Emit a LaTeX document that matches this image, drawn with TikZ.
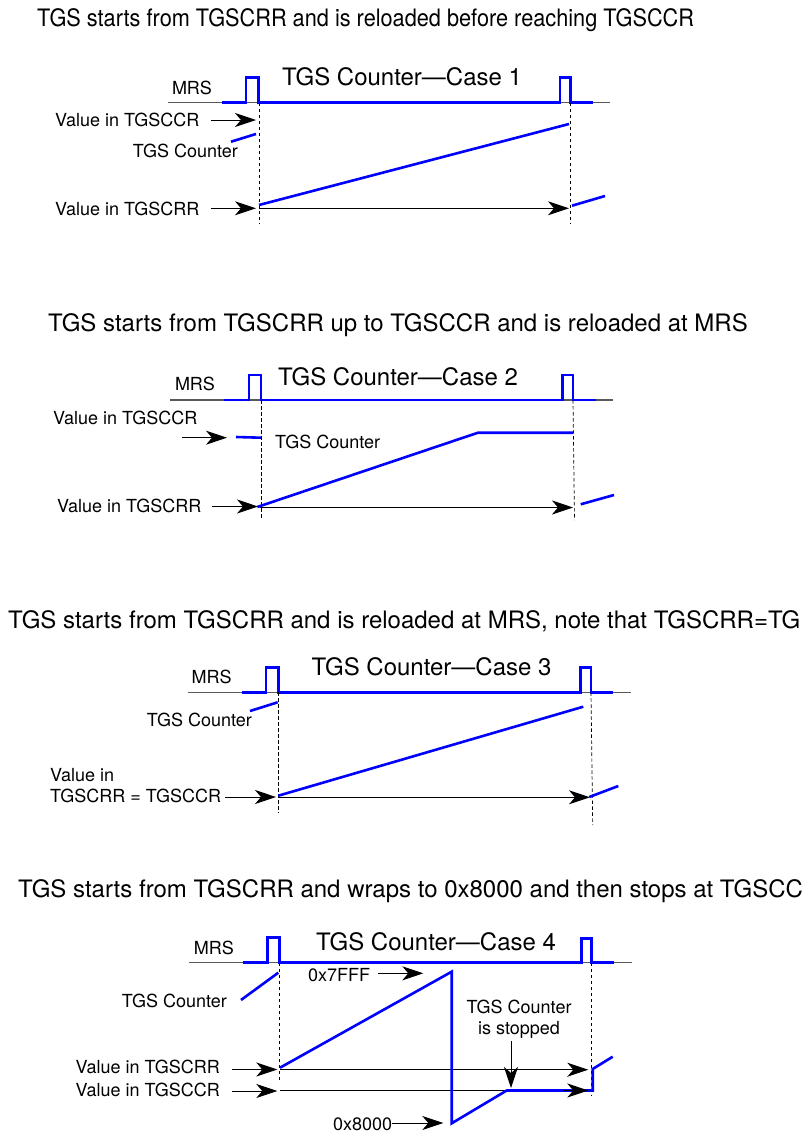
\documentclass[tikz,border=0pt]{standalone}
\usepackage{fontspec}
\setmainfont{TeX Gyre Heros}
\usepackage{tikz}
\usetikzlibrary{arrows.meta,positioning}
\definecolor{wave}{RGB}{0,0,255}

\begin{document}
\begin{tikzpicture}[x=1pt,y=-1pt,
  lbl/.style={font=\fontsize{18}{21}\selectfont, inner sep=0pt},
  ttl/.style={font=\fontsize{24}{28}\selectfont, inner sep=0pt},
  sig/.style={wave, line width=2.6pt},
  base/.style={draw=black!65, line width=1.2pt},
  guide/.style={line width=0.7pt, dash pattern=on 3.5pt off 2.5pt},
  ptr/.style={-{Stealth[length=21pt,width=14pt,inset=6pt]}, line width=1pt}]
  \useasboundingbox (0,0) rectangle (805,1135);

  % case 1
  \node[ttl, anchor=west] (ttlA) at (37,20) {\scalebox{0.905}[1]{TGS starts from TGSCRR and is reloaded before reaching TGSCCR}};
  \node[lbl] (mrsA) at (192,88) {MRS};
  \node[ttl] (caseA) at (402,77) {TGS Counter---Case 1};
  \draw[base] (168,102.7) -- (610,102.7);
  \draw[sig] (222,102.7) -| (246,77.3) -| (258.5,102.7) -| (560,77.3) -| (570.5,102.7) -- (593,102.7);
  \draw[guide] (259,102.7) -- (259,223);
  \draw[guide] (570,102.7) -- (570,223);
  \coordinate (cmpA) at (256,120);
  \coordinate (rldA) at (256,208.3);
  \node[lbl, anchor=west] (vccA) at (55,120) {Value in TGSCCR};
  \node[lbl, anchor=east] (cntA) at (238,151) {TGS Counter};
  \node[lbl, anchor=west] (vcrA) at (55,209) {Value in TGSCRR};
  \draw[ptr] ([xshift=11pt]vccA.east |- cmpA) -- (cmpA);
  \draw[ptr] ([xshift=11pt]vcrA.east |- rldA) -- (rldA);
  \draw[ptr] (259,208.3) -- (569,208.3);
  \draw[sig] (231,141.7) -- (256,134);
  \draw[sig] (259,205) -- (569,124);
  \draw[sig] (572,205.7) -- (605,196);

  % case 2
  \node[ttl, anchor=west] (ttlB) at (48,325) {TGS starts from TGSCRR up to TGSCCR and is reloaded at MRS};
  \node[lbl] (mrsB) at (195,384) {MRS};
  \node[ttl] (caseB) at (398,377) {TGS Counter---Case 2};
  \draw[base] (170,400) -- (613,400);
  \draw[sig] (224,400) -| (249,375) -| (261,400) -| (562.7,375) -| (573,400) -- (596,400);
  \draw[guide] (261.5,400) -- (261.5,519);
  \draw[guide] (573,400) -- (574.5,520);
  \coordinate (cmpB0) at (181.7,437.7);
  \coordinate (cmpB) at (227,437.7);
  \coordinate (rldB) at (258,506.5);
  \node[lbl, anchor=west] (vccB) at (53,418) {Value in TGSCCR};
  \node[lbl, anchor=west] (cntB) at (275,442) {TGS Counter};
  \node[lbl, anchor=west] (vcrB) at (57,506) {Value in TGSCRR};
  \draw[ptr] (cmpB0) -- (cmpB);
  \draw[ptr] ([xshift=10pt]vcrB.east |- rldB) -- (rldB);
  \draw[ptr] (260,507.5) -- (573,507.5);
  \draw[sig] (236,437) -- (261,437.7);
  \draw[sig] (257.3,507) -- (478,432.7) -- (573,432.7);
  \draw[sig] (580.7,504.3) -- (614,495);

  % case 3
  \node[ttl, anchor=west] (ttlC) at (8,621) {TGS starts from TGSCRR and is reloaded at MRS, note that TGSCRR=TG};
  \node[lbl] (mrsC) at (211.7,676.7) {MRS};
  \node[ttl] (caseC) at (431.5,667) {TGS Counter---Case 3};
  \draw[base] (187.7,692.3) -- (630.7,692.3);
  \draw[sig] (241.7,692.3) -| (266,667.3) -| (278.3,692.3) -| (580.7,667.3) -| (591,692.3) -- (613.3,692.3);
  \draw[guide] (278.3,692.3) -- (278.3,813);
  \draw[guide] (591,692.3) -- (592.7,825);
  \coordinate (rldC) at (276,797);
  \node[lbl, anchor=east] (cntC) at (252,720) {TGS Counter};
  \node[lbl, anchor=north west, align=left] (vcrC) at (50,768) {Value in\\TGSCRR = TGSCCR};
  \draw[ptr] ([xshift=4pt]vcrC.east |- rldC) -- (rldC);
  \draw[ptr] (279,797.3) -- (590,797.3);
  \draw[sig] (250,711) -- (277.7,702.3);
  \draw[sig] (278.3,795.7) -- (583.3,706.7);
  \draw[sig] (589.3,797) -- (618.3,786);

  % case 4
  \node[ttl, anchor=west] (ttlD) at (18,891) {TGS starts from TGSCRR and wraps to 0x8000 and then stops at TGSCC};
  \node[lbl] (mrsD) at (213.8,948.3) {MRS};
  \node[ttl] (caseD) at (436,942) {TGS Counter---Case 4};
  \draw[base] (189,962.7) -- (631.7,962.7);
  \draw[sig] (242.7,962.7) -| (267.3,937.7) -| (279.3,962.7) -| (581.7,938.3) -| (591.7,962.7) -- (614.3,962.7);
  \draw[guide] (279.3,962.7) -- (279.3,1080);
  \draw[guide] (591.7,962.7) -- (591.7,1095);
  \coordinate (topD) at (423.3,973.3);
  \coordinate (botD) at (443.3,1123);
  \coordinate (rldD) at (277.3,1069.5);
  \coordinate (cmpD) at (277.3,1091);
  \coordinate (endD) at (588.3,1090.5);
  \coordinate (stopD) at (511,1088);
  \node[lbl, anchor=east] (cntD) at (227,1001) {TGS Counter};
  \node[lbl, anchor=west] (hiD) at (308,975) {0x7FFF};
  \node[lbl, anchor=west] (loD) at (333,1124) {0x8000};
  \node[lbl, anchor=east] (vcrD) at (220,1067) {Value in TGSCRR};
  \node[lbl, anchor=east] (vccD) at (220,1090) {Value in TGSCCR};
  \node[lbl, align=center] (stpD) at (519,1019) {TGS Counter\\is stopped};
  \draw[ptr] ([xshift=8pt]hiD.east |- topD) -- (topD);
  \draw[ptr] (loD.east |- botD) -- (botD);
  \draw[ptr] ([xshift=12pt]vcrD.east |- rldD) -- (rldD);
  \draw[ptr] ([xshift=12pt]vccD.east |- cmpD) -- (cmpD);
  \draw[ptr] (280,1069.7) -- (588.3,1069.7);
  \draw[line width=1pt] (280,1090.5) -- (endD);
  \draw[sig] (241,1000) -- (278.3,972.7);
  \draw[sig] (280,1067.7) -- (451.7,971.7) -- (451.7,1123.3) -- (506.7,1090.5)
    -- (592.7,1090.5) -- (592.7,1069) -- (612.7,1056.7);
  \draw[ptr] ([xshift=-24pt]endD) -- (endD);
  \draw[ptr] ([yshift=-3pt]stpD.south -| stopD) -- (stopD);
\end{tikzpicture}
\end{document}
